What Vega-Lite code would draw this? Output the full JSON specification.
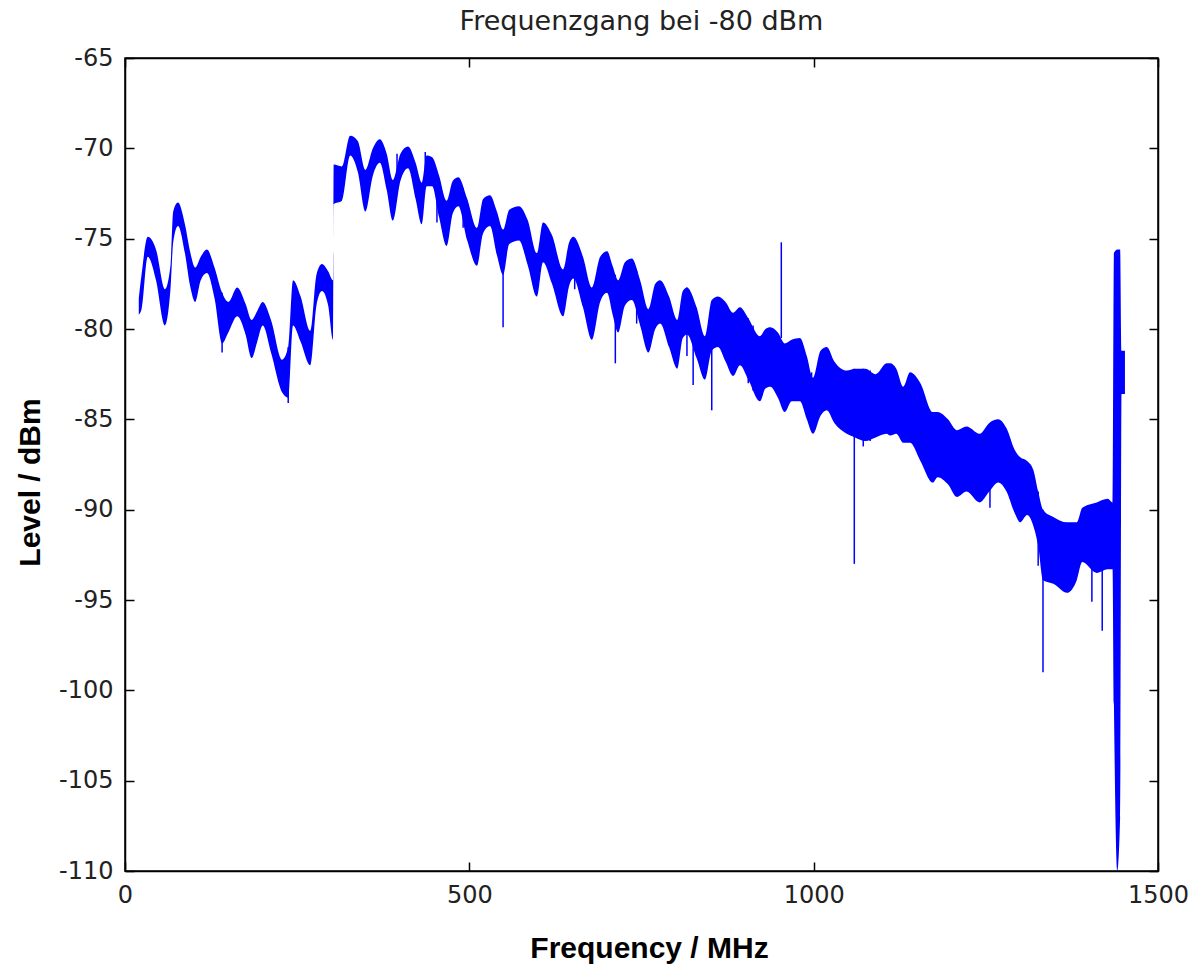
{
  "$schema": "https://vega.github.io/schema/vega-lite/v6.json",
  "width": 1033,
  "height": 813,
  "autosize": "none",
  "padding": {"left": 125, "top": 58, "right": 36, "bottom": 99},
  "background": "white",
  "title": {"text": "Frequenzgang bei -80 dBm", "font": "DejaVu Sans", "fontSize": 27, "fontWeight": "normal", "color": "#222", "anchor": "middle", "offset": 10},
  "config": {
    "view": {"stroke": "black", "strokeWidth": 1.5},
    "axis": {"grid": false, "domainColor": "black", "domainWidth": 1.5, "tickColor": "black", "tickWidth": 1.5, "tickSize": -9, "labelPadding": 21, "labelFlush": false, "labelOverlap": false, "labelFont": "DejaVu Sans", "labelFontSize": 24, "labelColor": "#222", "labelExpr": "datum.value + ''", "titleFont": "Liberation Sans", "titleFontSize": 30, "titleFontWeight": "bold", "titleColor": "black"}
  },
  "datasets": {
    "band": [
      {"f": 20, "hi": -78.3, "lo": -79.2},
      {"f": 24, "hi": -77.0, "lo": -78.9},
      {"f": 33, "hi": -74.9, "lo": -76.0},
      {"f": 45, "hi": -75.6, "lo": -77.3},
      {"f": 58, "hi": -77.8, "lo": -79.8},
      {"f": 66, "hi": -76.5, "lo": -77.8},
      {"f": 70, "hi": -73.5, "lo": -75.2},
      {"f": 77, "hi": -73.0, "lo": -74.3},
      {"f": 87, "hi": -74.2, "lo": -75.8},
      {"f": 95, "hi": -75.8, "lo": -77.7},
      {"f": 102, "hi": -76.6, "lo": -78.5},
      {"f": 110, "hi": -76.0, "lo": -77.3},
      {"f": 119, "hi": -75.6, "lo": -76.9},
      {"f": 130, "hi": -76.6, "lo": -78.3},
      {"f": 141, "hi": -78.0, "lo": -80.8},
      {"f": 150, "hi": -78.5, "lo": -80.2},
      {"f": 163, "hi": -77.7, "lo": -79.3},
      {"f": 175, "hi": -78.6, "lo": -80.3},
      {"f": 184, "hi": -79.5, "lo": -81.6},
      {"f": 192, "hi": -79.0, "lo": -80.7},
      {"f": 200, "hi": -78.5, "lo": -79.8},
      {"f": 212, "hi": -79.5, "lo": -81.3},
      {"f": 228, "hi": -81.7, "lo": -83.5},
      {"f": 237, "hi": -81.0, "lo": -83.8},
      {"f": 244, "hi": -77.3, "lo": -79.8},
      {"f": 255, "hi": -78.2, "lo": -80.7},
      {"f": 269, "hi": -80.1, "lo": -82.0},
      {"f": 278, "hi": -77.0, "lo": -78.7},
      {"f": 286, "hi": -76.4, "lo": -77.9},
      {"f": 295, "hi": -76.8, "lo": -78.7},
      {"f": 302, "hi": -77.3, "lo": -80.6},
      {"f": 303, "hi": -70.9, "lo": -73.1},
      {"f": 315, "hi": -71.0, "lo": -72.9},
      {"f": 327, "hi": -69.3, "lo": -70.4},
      {"f": 338, "hi": -69.6, "lo": -71.3},
      {"f": 349, "hi": -71.2, "lo": -73.5},
      {"f": 360, "hi": -70.0, "lo": -71.5},
      {"f": 370, "hi": -69.5, "lo": -70.8},
      {"f": 380, "hi": -70.3, "lo": -72.3},
      {"f": 389, "hi": -71.75, "lo": -74.0},
      {"f": 400, "hi": -70.3, "lo": -71.8},
      {"f": 411, "hi": -69.9, "lo": -71.1},
      {"f": 422, "hi": -70.8, "lo": -72.8},
      {"f": 431, "hi": -71.9, "lo": -74.2},
      {"f": 438, "hi": -70.4, "lo": -72.1},
      {"f": 446, "hi": -70.5, "lo": -72.1},
      {"f": 456, "hi": -71.5, "lo": -73.8},
      {"f": 467, "hi": -72.9, "lo": -75.4},
      {"f": 476, "hi": -71.8, "lo": -73.6},
      {"f": 484, "hi": -71.6, "lo": -73.2},
      {"f": 497, "hi": -72.8, "lo": -75.1},
      {"f": 511, "hi": -74.4, "lo": -76.5},
      {"f": 520, "hi": -72.8, "lo": -74.7},
      {"f": 530, "hi": -72.6, "lo": -74.3},
      {"f": 540, "hi": -73.5, "lo": -75.9},
      {"f": 549, "hi": -74.5, "lo": -77.0},
      {"f": 558, "hi": -73.4, "lo": -75.3},
      {"f": 572, "hi": -73.2, "lo": -75.1},
      {"f": 585, "hi": -74.0, "lo": -76.5},
      {"f": 598, "hi": -75.8, "lo": -78.2},
      {"f": 607, "hi": -74.1, "lo": -76.3},
      {"f": 620, "hi": -74.8, "lo": -77.5},
      {"f": 636, "hi": -76.7, "lo": -79.3},
      {"f": 645, "hi": -75.2, "lo": -77.6},
      {"f": 651, "hi": -74.9, "lo": -77.2},
      {"f": 665, "hi": -76.0, "lo": -78.8},
      {"f": 678, "hi": -77.7, "lo": -80.6},
      {"f": 690, "hi": -76.0, "lo": -78.5},
      {"f": 700, "hi": -75.7, "lo": -78.0},
      {"f": 708, "hi": -76.5, "lo": -79.2},
      {"f": 716, "hi": -77.3, "lo": -80.2},
      {"f": 726, "hi": -76.3, "lo": -78.7},
      {"f": 736, "hi": -76.1, "lo": -78.4},
      {"f": 748, "hi": -77.3, "lo": -79.8},
      {"f": 760, "hi": -78.9, "lo": -81.3},
      {"f": 770, "hi": -77.5, "lo": -80.0},
      {"f": 777, "hi": -77.3, "lo": -79.7},
      {"f": 790, "hi": -78.2, "lo": -81.0},
      {"f": 802, "hi": -79.5, "lo": -82.2},
      {"f": 810, "hi": -77.9, "lo": -80.5},
      {"f": 816, "hi": -77.7, "lo": -80.3},
      {"f": 830, "hi": -78.8, "lo": -81.6},
      {"f": 842, "hi": -80.4, "lo": -82.8},
      {"f": 852, "hi": -78.4, "lo": -81.2},
      {"f": 861, "hi": -78.2, "lo": -81.0},
      {"f": 872, "hi": -78.5, "lo": -81.8},
      {"f": 883, "hi": -79.1, "lo": -82.6},
      {"f": 893, "hi": -78.8, "lo": -82.0},
      {"f": 905, "hi": -79.4, "lo": -82.8},
      {"f": 922, "hi": -80.4, "lo": -84.0},
      {"f": 930, "hi": -80.0, "lo": -83.3},
      {"f": 937, "hi": -79.9, "lo": -83.2},
      {"f": 948, "hi": -80.2, "lo": -83.8},
      {"f": 958, "hi": -80.8, "lo": -84.6},
      {"f": 968, "hi": -80.6, "lo": -84.0},
      {"f": 980, "hi": -80.5, "lo": -84.0},
      {"f": 990, "hi": -81.5, "lo": -85.0},
      {"f": 999, "hi": -82.7, "lo": -85.8},
      {"f": 1010, "hi": -81.2, "lo": -84.8},
      {"f": 1019, "hi": -81.0, "lo": -84.5},
      {"f": 1030, "hi": -81.8, "lo": -85.2},
      {"f": 1048, "hi": -82.3, "lo": -85.8},
      {"f": 1060, "hi": -82.2, "lo": -86.0},
      {"f": 1075, "hi": -82.2, "lo": -86.2},
      {"f": 1090, "hi": -82.5, "lo": -86.0},
      {"f": 1106, "hi": -81.9, "lo": -85.8},
      {"f": 1111, "hi": -81.9, "lo": -85.9},
      {"f": 1120, "hi": -82.2, "lo": -85.8},
      {"f": 1130, "hi": -83.2, "lo": -86.3},
      {"f": 1140, "hi": -82.4, "lo": -86.3},
      {"f": 1155, "hi": -83.0, "lo": -87.3},
      {"f": 1173, "hi": -84.6, "lo": -88.5},
      {"f": 1180, "hi": -84.6, "lo": -88.2},
      {"f": 1195, "hi": -85.0, "lo": -88.6},
      {"f": 1208, "hi": -85.6, "lo": -89.3},
      {"f": 1222, "hi": -85.4, "lo": -89.0},
      {"f": 1241, "hi": -85.8, "lo": -89.6},
      {"f": 1255, "hi": -85.2, "lo": -89.0},
      {"f": 1268, "hi": -85.0, "lo": -88.5},
      {"f": 1280, "hi": -85.5, "lo": -89.0},
      {"f": 1292, "hi": -86.7, "lo": -90.2},
      {"f": 1300, "hi": -87.1, "lo": -90.7},
      {"f": 1310, "hi": -87.3, "lo": -90.3},
      {"f": 1319, "hi": -87.8, "lo": -90.9},
      {"f": 1326, "hi": -89.0, "lo": -92.0},
      {"f": 1333, "hi": -90.0, "lo": -93.9},
      {"f": 1348, "hi": -90.4, "lo": -94.1},
      {"f": 1368, "hi": -90.7, "lo": -94.6},
      {"f": 1382, "hi": -90.7, "lo": -93.9},
      {"f": 1390, "hi": -89.9, "lo": -92.9},
      {"f": 1411, "hi": -89.6, "lo": -93.5},
      {"f": 1427, "hi": -89.4, "lo": -93.3},
      {"f": 1434, "hi": -89.6, "lo": -93.3},
      {"f": 1436, "hi": -75.8, "lo": -100.8},
      {"f": 1441, "hi": -75.6, "lo": -110.0},
      {"f": 1445, "hi": -75.6, "lo": -107.0},
      {"f": 1447, "hi": -81.2, "lo": -83.6},
      {"f": 1452, "hi": -81.2, "lo": -83.6}
    ],
    "spikes": [
      {"f": 141, "a": -78.0, "b": -81.3},
      {"f": 237, "a": -81.0, "b": -84.1},
      {"f": 395, "a": -71.5, "b": -70.3},
      {"f": 436, "a": -71.5, "b": -70.2},
      {"f": 453, "a": -71.5, "b": -74.1},
      {"f": 491, "a": -72.2, "b": -74.4},
      {"f": 549, "a": -74.5, "b": -79.9},
      {"f": 614, "a": -74.5, "b": -76.3},
      {"f": 653, "a": -75.0, "b": -77.8},
      {"f": 712, "a": -77.0, "b": -81.9},
      {"f": 743, "a": -76.8, "b": -79.7},
      {"f": 816, "a": -77.7, "b": -81.5},
      {"f": 825, "a": -79.0, "b": -83.1},
      {"f": 852, "a": -79.0, "b": -84.5},
      {"f": 905, "a": -79.4, "b": -83.0},
      {"f": 912, "a": -79.8, "b": -83.4},
      {"f": 953, "a": -80.5, "b": -75.2},
      {"f": 997, "a": -82.4, "b": -85.6},
      {"f": 1059, "a": -82.2, "b": -93.0},
      {"f": 1072, "a": -82.2, "b": -86.5},
      {"f": 1082, "a": -82.3, "b": -86.2},
      {"f": 1256, "a": -85.2, "b": -89.9},
      {"f": 1326, "a": -89.0, "b": -93.1},
      {"f": 1333, "a": -90.0, "b": -99.0},
      {"f": 1404, "a": -89.8, "b": -95.1},
      {"f": 1419, "a": -89.6, "b": -96.7}
    ]
  },
  "layer": [
    {
      "data": {"name": "band"},
      "mark": {"type": "area", "color": "#0000ff", "opacity": 1, "interpolate": "monotone"},
      "encoding": {
        "x": {"field": "f", "type": "quantitative", "scale": {"domain": [0, 1500], "nice": false, "zero": false},
              "axis": {"orient": "bottom", "values": [0, 500, 1000, 1500], "title": "Frequency / MHz", "titleY": 77, "titleBaseline": "middle", "titleX": 524, "titleAnchor": "middle"}},
        "y": {"field": "hi", "type": "quantitative", "scale": {"domain": [-110, -65], "nice": false, "zero": false},
              "axis": {"orient": "left", "values": [-110, -105, -100, -95, -90, -85, -80, -75, -70, -65], "title": "Level / dBm", "titleX": -95, "titleY": 424, "titleAngle": -90, "titleBaseline": "middle", "titleAlign": "center", "titleAnchor": "middle"}},
        "y2": {"field": "lo"}
      }
    },
    {
      "data": {"name": "spikes"},
      "mark": {"type": "rule", "color": "#0000ff", "strokeWidth": 1.5},
      "encoding": {
        "x": {"field": "f", "type": "quantitative", "axis": {"orient": "top", "values": [0, 500, 1000, 1500], "labels": false, "title": null}},
        "y": {"field": "a", "type": "quantitative", "axis": {"orient": "right", "values": [-110, -105, -100, -95, -90, -85, -80, -75, -70, -65], "labels": false, "title": null}},
        "y2": {"field": "b"}
      }
    }
  ],
  "resolve": {"axis": {"x": "independent", "y": "independent"}}
}
